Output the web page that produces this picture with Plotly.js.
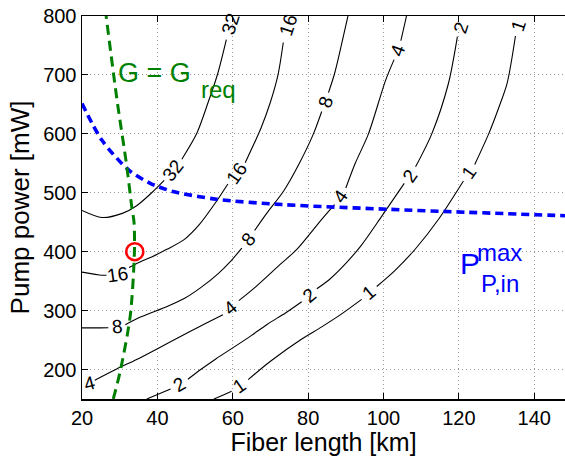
<!DOCTYPE html>
<html><head><meta charset="utf-8">
<script src="https://cdn.plot.ly/plotly-3.0.1.min.js"></script>
<style>html,body{margin:0;padding:0;background:#fff}#c{width:565px;height:456px}</style>
</head><body><div id="c"></div>
<script>
// Contour lines of gain (levels 32,16,8,4,2,1); null = gap where the label sits
const x32 = [20, 25.3, 30.7, 34.5, 38.5, 41.8, null, 46.5, 50.4, 53.5, 56, 58.3];
const y32 = [470, 458, 465, 478, 500, 521, null, 557, 600, 654, 702, 760];
const x16 = [20, 25.3, 26.5, null, 32.5, 35.9, 38.5, 42.5, 47, 51, 55.4, 58.7, null, 63.3, 67.5, 70, 72, 73.4];
const y16 = [365.4, 360, 360, null, 373, 384, 391, 404, 420, 445, 483, 515, null, 551, 610, 654, 700, 755];
const x8 = [20, 24.8, 27, null, 31.5, 35.5, 42.6, 47, 51.5, 56, 59.6, 62.4, null, 65.8, 69, 73.5, 77.5, 81.4, 83.6, null, 85.4, 87, 88.8, 90.6];
const y8 = [270.7, 270.7, 271, null, 276, 289, 307, 320, 339, 362, 385, 406, null, 436, 465, 503, 548, 600, 638, null, 670, 702, 750, 801];
const x4 = [23.4, 29.2, 34.5, 39.9, 45.5, 51.5, 57.4, null, 61.6, 66, 72.5, 77, 83.6, 87, null, 90, 92.5, 96, 100.5, 102.8, null, 104.6, 106.1];
const y4 = [182, 201, 217, 235, 254, 274, 293, null, 317, 340, 378, 404, 455, 480, null, 508, 550, 600, 690, 726, null, 758, 800];
const x2 = [37.2, 40.5, 43.5, null, 48.1, 51.5, 55.5, 60.3, 65, 69.2, 74, 78.3, null, 82.3, 85.5, 88.8, 94, 99.5, 105.5, null, 108.5, 112.8, 117.2, 119.6];
const y2 = [150, 159, 167, null, 183.5, 200, 218, 238, 258, 277, 296, 315, null, 337, 352, 372, 410, 460, 516, null, 544, 600, 685, 765];
const x1 = [55, 57.5, 59.7, null, 64.1, 70, 78.1, 83.5, 88.8, 94.2, null, 98.2, 103, 108.5, 114.6, 121.2, null, 124.2, 127.9, 130.5, 132.8, 135];
const y1 = [150, 157, 163, null, 183, 214, 251, 272, 294, 319, null, 341, 368, 405, 455, 520, null, 548, 600, 643, 686, 766];

// Contour labels
const labText = ['32', '32', '16', '16', '16', '8', '8', '8', '4', '4', '4', '4', '2', '2', '2', '2', '1', '1', '1', '1'];
const labX = [44.1, 59.3, 29.4, 61, 74.7, 29.4, 64.1, 84.5, 21.9, 59.5, 88.5, 103.7, 45.8, 80.3, 107, 120.5, 61.9, 96.2, 122.7, 135.8];
const labY = [538.5, 786, 362, 533, 784, 273, 421, 654, 177, 305, 494, 742, 175, 326, 530, 781, 173, 330, 534, 784];
const labAngle = [-52, -72, -8, -55, -72, -5, -50, -70, -15, -40, -55, -70, -30, -40, -55, -72, -35, -40, -55, -72];

// G = G_req curve (green) and max pump power curve (blue)
const xG = [28.3, 30.1, 32.8, 33.9, 33.8, 33.2, 31.9, 29.3, 26.4];
const yG = [150, 196, 291, 398, 450, 476, 544, 657, 800];
const xB = [20, 25.3, 32.5, 38.1, 40.4, 44.4, 55.7, 73, 101.2, 121.7, 148.3];
const yB = [651.5, 589, 538, 516, 510, 501.7, 489, 480, 472, 467, 461];

// Operating point
const xOp = [34];
const yOp = [400];

const xTicks = [20, 40, 60, 80, 100, 120, 140];
const yTicks = [200, 300, 400, 500, 600, 700, 800];

const contourSets = [[x32, y32], [x16, y16], [x8, y8], [x4, y4], [x2, y2], [x1, y1]];
const traces = contourSets.map(([xs, ys]) => ({
  x: xs, y: ys, type: 'scatter', mode: 'lines', connectgaps: false, hoverinfo: 'skip',
  line: {color: 'black', width: 1.1, shape: 'spline', smoothing: 0.8}
}));
traces.push({x: xB, y: yB, type: 'scatter', mode: 'lines', hoverinfo: 'skip',
  line: {color: 'rgb(0,0,255)', width: 3.6, dash: '8px,5px', shape: 'spline', smoothing: 0.8}});
traces.push({x: xG, y: yG, type: 'scatter', mode: 'lines', hoverinfo: 'skip',
  line: {color: 'rgb(0,128,0)', width: 3, dash: '10px,6px', shape: 'spline', smoothing: 0.8}});
traces.push({x: xOp, y: yOp, type: 'scatter', mode: 'markers', hoverinfo: 'skip',
  marker: {symbol: 'circle-open', size: 17, color: 'rgb(255,0,0)', line: {width: 2.5, color: 'rgb(255,0,0)'}}});

const FONT = 'Liberation Sans, Arial, Helvetica, sans-serif';
const annotations = labText.map((t, i) => ({
  x: labX[i], y: labY[i], xref: 'x', yref: 'y', text: t, showarrow: false,
  textangle: labAngle[i], font: {family: FONT, size: 19, color: 'black'}
}));
annotations.push({x: 29, y: 703, xref: 'x', yref: 'y', text: 'G = G', showarrow: false, xanchor: 'left', yanchor: 'middle',
  font: {family: FONT, size: 27, color: 'rgb(0,128,0)'}});
annotations.push({x: 51.04, y: 675, xref: 'x', yref: 'y', text: 'req', showarrow: false, xanchor: 'left', yanchor: 'middle',
  font: {family: FONT, size: 24, color: 'rgb(0,128,0)'}});
annotations.push({x: 119.8, y: 380, xref: 'x', yref: 'y', text: 'P', showarrow: false, xanchor: 'left', yanchor: 'middle',
  font: {family: FONT, size: 30, color: 'rgb(0,0,255)'}});
annotations.push({x: 124.3, y: 398, xref: 'x', yref: 'y', text: 'max', showarrow: false, xanchor: 'left', yanchor: 'middle',
  font: {family: FONT, size: 24, color: 'rgb(0,0,255)'}});
annotations.push({x: 125.2, y: 346, xref: 'x', yref: 'y', text: 'P,in', showarrow: false, xanchor: 'left', yanchor: 'middle',
  font: {family: FONT, size: 24, color: 'rgb(0,0,255)'}});

const axisCommon = {
  ticks: 'inside', ticklen: 6, tickwidth: 1, tickcolor: 'black',
  showline: true, linecolor: 'black', linewidth: 1.5,
  showgrid: true, gridcolor: '#9a9a9a', gridwidth: 1, griddash: '1px,3px',
  zeroline: false, tickfont: {family: FONT, size: 20, color: 'black'}
};

const layout = {
  width: 565, height: 456,
  margin: {l: 82, r: 0, t: 16, b: 57},
  paper_bgcolor: 'white', plot_bgcolor: 'white',
  showlegend: false,
  font: {family: FONT, color: 'black'},
  xaxis: Object.assign({}, axisCommon, {
    range: [20, 148.15], tickvals: xTicks, ticktext: xTicks.map(String), mirror: 'ticks',
    ticklabelstandoff: 0,
    title: {text: 'Fiber length [km]', font: {family: FONT, size: 25, color: 'black'}, standoff: 4}
  }),
  yaxis: Object.assign({}, axisCommon, {
    range: [150, 800], tickvals: yTicks, ticktext: yTicks.map(String), mirror: false,
    title: {text: 'Pump power [mW]', font: {family: FONT, size: 26, color: 'black'}, standoff: 6}
  }),
  annotations: annotations
};

Plotly.newPlot('c', traces, layout, {staticPlot: true, displayModeBar: false});
</script></body></html>
